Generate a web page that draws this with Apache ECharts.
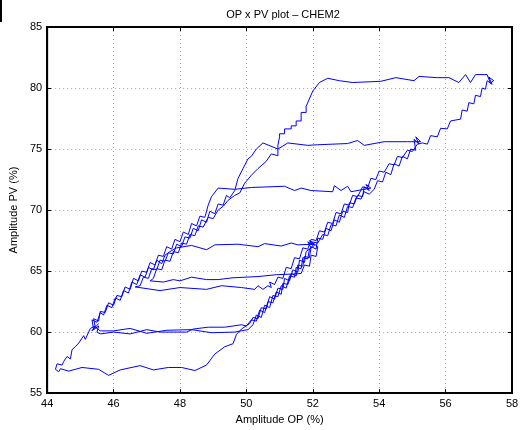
<!DOCTYPE html>
<html>
<head>
<meta charset="utf-8">
<script src="https://cdn.jsdelivr.net/npm/echarts@6/dist/echarts.min.js"></script>
<style>
  html, body { margin: 0; padding: 0; background: #fff; }
  #chart { width: 524px; height: 430px; }
</style>
</head>
<body>
<div id="chart"></div>
<script>
// axis ticks
var xTicks = [44, 46, 48, 50, 52, 54, 56, 58];
var yTicks = [55, 60, 65, 70, 75, 80, 85];

// OP (%) samples, in drawing order
var opValues = [
  45.55,45.35,45.45,45.3,45.15,45.1,44.95,44.85,44.75,44.7,44.6,44.5,44.45,44.3,44.25,44.35,44.4,
  44.65,45.05,45.55,45.85,46.2,46.8,47.2,47.65,48.05,48.45,48.8,49.05,49.35,49.6,49.7,49.85,50.1,
  50.2,50.35,50.45,50.6,50.7,50.85,50.95,51.1,51.15,51.3,51.4,51.55,51.6,51.75,51.8,51.95,51.85,52.0,51.9,52.05,
  51.55,51.35,51.05,50.55,50.35,49.75,49.05,48.8,48.35,47.9,47.7,
  47.55,47.45,47.3,47.2,47.05,46.95,46.8,46.7,46.55,46.45,46.3,46.2,46.05,45.95,45.8,45.7,45.6,45.5,45.35,45.4,45.55,45.5,
  45.6,46.0,46.5,47.0,47.4,48.2,48.4,48.85,49.35,49.85,50.0,
  50.15,50.3,50.4,50.55,50.65,50.8,50.9,51.05,51.1,51.25,51.35,51.5,51.55,51.7,51.75,51.9,51.95,52.1,52.15,52.3,52.4,52.55,52.65,52.8,52.9,53.05,53.1,53.25,53.35,53.5,53.55,53.7,53.6,53.75,
  53.15,53.05,52.85,52.65,52.6,51.95,51.65,51.45,51.15,50.15,49.65,49.15,
  48.95,48.85,48.75,48.6,48.5,48.35,48.25,48.1,48.0,47.85,47.75,47.6,47.5,47.35,47.25,47.1,47.0,46.85,46.75,46.6,46.5,46.35,46.25,46.1,46.0,45.85,45.75,45.6,45.55,45.4,45.45,45.6,
  46.0,46.5,47.0,47.6,48.35,48.95,49.65,50.05,
  50.2,50.3,50.45,50.55,50.7,50.8,50.95,51.05,51.2,51.3,51.45,51.5,51.65,51.7,51.85,51.9,52.05,51.95,52.15,52.3,52.45,52.55,52.7,52.8,52.95,53.05,53.2,53.3,53.45,53.55,53.7,53.85,53.95,54.1,54.2,54.35,54.45,54.6,54.7,54.85,54.95,55.1,55.05,55.2,55.1,55.25,
  54.85,54.15,53.55,53.35,53.05,52.15,51.85,51.25,50.95,50.5,50.3,50.15,50.05,49.9,49.75,49.65,49.5,
  49.4,49.3,49.15,49.05,48.9,48.8,48.65,48.55,48.4,48.3,48.15,48.05,47.9,47.8,47.65,47.55,47.4,47.3,47.15,47.05,46.9,46.8,46.65,
  47.4,48.0,48.8,49.25,49.85,50.25,50.35,50.5,50.65,50.75,50.7,50.85,
  50.95,51.1,51.2,51.35,51.45,51.6,51.7,51.85,51.95,52.1,52.2,52.35,52.45,52.6,52.7,52.85,52.95,53.1,53.2,53.35,53.5,53.65,53.75,53.9,54.0,54.15,54.3,54.45,54.55,54.7,54.85,55.0,55.15,
  55.3,55.45,55.55,55.75,55.85,56.05,56.15,56.45,56.5,56.65,56.7,56.85,56.9,57.05,57.1,57.2,57.25,57.4,57.3,57.45,57.35,
  57.25,56.9,56.75,56.6,56.4,56.1,55.75,55.2,55.05,54.5,54.05,53.2,52.8,52.45,52.2,52.0,51.8,51.8,51.65,51.65,51.5,51.5,51.35,51.35,51.15,51.15,51.0,51.0,50.95,50.95,
  50.75,50.6,50.35,50.15,49.95,49.8,49.65,49.45,49.3,49.15,49.0,48.85,48.7,48.55,48.45,48.3,48.2,48.05,47.95,47.8,47.7,47.55,47.45,47.3,47.2,47.1,
  47.5,47.8,48.0,48.35,48.8,49.15,49.6,50.35,50.9,51.35,51.65,51.75,51.9,51.95,52.1,52.15,52.0
];

// PV (%) samples matching opValues
var pvValues = [
  60.7,60.1,60.5,60.3,59.4,59.7,59.1,58.8,58.55,57.8,58.0,57.6,57.3,57.4,56.95,56.75,57.0,
  56.8,57.1,56.95,56.45,56.9,57.25,56.9,57.1,57.1,56.85,57.3,58.2,58.8,59.05,59.8,60.25,60.7,
  61.2,61.1,62.0,61.9,62.9,62.7,63.6,63.5,64.4,64.2,65.1,64.9,65.9,65.7,66.6,66.9,67.4,67.1,67.5,67.2,
  67.15,67.3,67.05,67.25,67.0,67.2,67.15,66.75,67.1,66.9,66.6,
  66.3,65.6,65.9,65.1,65.3,64.5,64.7,63.9,64.1,63.2,63.4,62.6,62.8,62.0,62.2,61.4,61.6,60.8,61.0,60.2,60.5,60.0,
  59.85,60.0,59.85,60.2,60.0,60.0,60.25,60.4,60.4,60.6,60.5,
  61.0,60.9,61.8,61.6,62.5,62.4,63.3,63.1,64.0,63.9,64.8,64.6,65.5,65.4,66.2,66.1,67.0,66.8,67.7,67.6,68.5,68.3,69.2,69.0,69.9,69.8,70.6,70.5,71.2,71.1,71.9,71.6,72.1,71.8,
  71.5,71.95,71.6,72.0,71.5,71.6,71.8,71.6,71.95,71.85,71.7,71.8,
  71.1,70.4,69.4,69.5,68.7,68.9,68.0,68.2,67.4,67.6,66.8,67.0,66.2,66.3,65.5,65.7,64.9,65.0,64.2,64.4,63.5,63.7,62.9,63.0,62.2,62.4,61.6,61.7,60.9,61.1,60.4,60.1,
  60.1,60.3,59.9,60.15,60.2,59.95,60.0,60.2,
  60.6,61.4,61.2,62.2,62.0,63.0,62.9,63.8,63.6,64.6,64.5,65.3,65.2,66.1,66.0,66.8,67.1,67.4,67.3,68.0,67.9,68.8,68.7,69.6,69.4,70.3,70.2,71.0,70.9,71.5,71.3,71.7,72.4,72.3,73.1,72.9,73.8,73.6,74.4,74.2,75.0,74.9,75.8,75.4,76.0,75.6,
  75.6,75.6,75.3,75.7,75.45,75.35,75.3,75.5,75.0,75.5,75.0,74.4,74.2,73.4,72.6,71.6,71.0,
  71.2,70.4,70.5,69.7,69.9,69.0,69.2,68.3,68.5,67.7,67.8,67.0,67.2,66.4,66.5,65.8,65.9,65.1,65.2,64.4,64.5,63.8,63.7,
  63.4,63.65,63.5,63.8,63.65,63.5,63.8,63.5,63.8,63.65,64.1,63.9,
  64.5,64.4,65.3,65.2,66.1,66.0,66.9,66.8,67.6,67.5,68.3,68.2,69.0,68.9,69.8,69.7,70.5,70.4,71.2,71.1,71.9,71.8,72.6,72.5,73.2,73.1,73.8,73.7,74.4,74.3,74.9,74.8,75.4,
  75.5,75.4,76.1,76.0,76.7,76.65,77.3,77.45,78.2,78.1,78.8,78.7,79.4,79.3,80.0,79.9,80.6,80.3,80.9,80.6,80.4,
  81.1,81.1,80.45,81.1,80.45,80.85,80.85,80.95,80.6,80.85,80.55,80.45,80.6,80.8,80.45,79.75,78.5,78.0,78.0,77.3,77.3,76.9,76.9,76.65,76.65,76.25,76.25,76.0,75.3,74.45,
  74.6,74.0,73.4,72.85,72.2,71.4,71.2,70.8,70.3,70.0,69.3,69.4,68.6,68.7,67.9,68.0,67.2,67.3,66.5,66.6,65.8,65.9,65.1,65.2,64.4,64.2,
  64.1,64.3,64.2,64.5,64.3,64.3,64.45,64.55,64.7,64.75,64.8,65.5,65.4,66.3,66.2,67.0,67.3
];

var points = opValues.map(function (op, i) { return [op, pvValues[i]]; });

var chart = echarts.init(document.getElementById('chart'));
var fontName = 'Liberation Sans, Arial, sans-serif';

var gridLine = { show: true, lineStyle: { color: '#a8a8a8', type: [1, 3], width: 1 } };

chart.setOption({
  backgroundColor: '#fff',
  animation: false,
  title: {
    text: 'OP x PV plot \u2013 CHEM2',
    left: 278,
    textAlign: 'center',
    top: 4,
    textStyle: { fontFamily: fontName, fontSize: 11, fontWeight: 'normal', color: '#000' }
  },
  graphic: [
    { type: 'rect', left: 0, top: 0, shape: { width: 2, height: 22 }, style: { fill: '#000' } }
  ],
  grid: {
    left: 45, right: 12, top: 27, bottom: 33,
    show: true, borderColor: '#000', borderWidth: 2
  },
  xAxis: [{
    type: 'value', min: 44, max: 58, interval: 2,
    name: 'Amplitude OP (%)', nameLocation: 'middle', nameGap: 18,
    nameTextStyle: { fontFamily: fontName, fontSize: 11, color: '#000' },
    axisLine: { show: true, lineStyle: { color: '#000', width: 2 } },
    axisTick: { show: true, inside: true, length: 4, lineStyle: { color: '#000' } },
    axisLabel: { fontFamily: fontName, fontSize: 11, color: '#000', margin: 5,
      formatter: function (v) { return xTicks.indexOf(v) >= 0 ? String(v) : ''; } },
    splitLine: gridLine
  }, {
    type: 'value', min: 44, max: 58, interval: 2, position: 'top',
    axisLine: { show: true, lineStyle: { color: '#000', width: 2 } },
    axisTick: { show: true, inside: true, length: 4, lineStyle: { color: '#000' } },
    axisLabel: { show: false }, splitLine: { show: false }
  }],
  yAxis: [{
    type: 'value', min: 55, max: 85, interval: 5,
    name: 'Amplitude PV (%)', nameLocation: 'middle', nameGap: 17,
    nameTextStyle: { fontFamily: fontName, fontSize: 11, color: '#000' },
    axisLine: { show: true, lineStyle: { color: '#000', width: 2 } },
    axisTick: { show: true, inside: true, length: 4, lineStyle: { color: '#000' } },
    axisLabel: { fontFamily: fontName, fontSize: 11, color: '#000', margin: 5,
      formatter: function (v) { return yTicks.indexOf(v) >= 0 ? String(v) : ''; } },
    splitLine: gridLine
  }, {
    type: 'value', min: 55, max: 85, interval: 5, position: 'right',
    axisLine: { show: true, lineStyle: { color: '#000', width: 2 } },
    axisTick: { show: true, inside: true, length: 4, lineStyle: { color: '#000' } },
    axisLabel: { show: false }, splitLine: { show: false }
  }],
  series: [{
    type: 'line',
    xAxisIndex: 0,
    yAxisIndex: 0,
    data: points,
    showSymbol: false,
    smooth: false,
    lineStyle: { color: '#0000ff', width: 1 }
  }]
});
</script>
</body>
</html>
